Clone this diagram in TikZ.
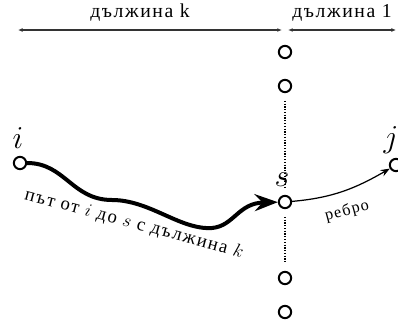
\documentclass[tikz,border=0pt]{standalone}
\usepackage{fontspec}
\setmainfont[LetterSpace=8]{Liberation Serif}
\usepackage{tikz}
\usetikzlibrary{arrows.meta, positioning, calc}

\tikzset{
  vert/.style={circle, draw, line width=1.3pt, fill=white, minimum size=8pt, inner sep=0pt},
  vlabel/.style={font=\huge},
  walk/.style={line width=2.6pt, -{Stealth[length=15pt,width=11pt,inset=5pt]}},
  edge/.style={line width=0.8pt, -{Stealth[length=6pt,width=4.5pt]}},
  span/.style={line width=0.8pt, black!80, {Latex[length=3pt,width=2.5pt]}-{Latex[length=3pt,width=2.5pt]}},
  gap/.style={densely dotted, line width=0.8pt},
  toptext/.style={font=\fontsize{12.8}{14}\selectfont},
  pathtext/.style={font=\fontsize{12.2}{13}\selectfont}
}

\begin{document}
\begin{tikzpicture}[x=0.65pt, y=-0.65pt]
  \useasboundingbox (0,0) rectangle (398,329);

  % lengths on top
  \coordinate (L) at (18,30);
  \coordinate (M) at (285,30);
  \coordinate (R) at (396,30);
  \draw[span, shorten >=2pt] (L) -- (M);
  \draw[span, shorten <=2pt] (M) -- (R);
  \node[toptext] (lenk) at (140,13) {дължина k};
  \node[toptext] (len1) at (342,13) {дължина 1};

  % vertices
  \node[vert] (i) at (20,163) {};
  \node[vert] (j) at (396,165) {};
  \node[vert] (v1) at (285,52) {};
  \node[vert] (v2) at (285,86) {};
  \node[vert] (s) at (285,202) {};
  \node[vert] (v4) at (285,278) {};
  \node[vert] (v5) at (285,312) {};
  \node[vlabel] (li) at (18,138) {$i$};
  \node[vlabel] (ls) at (282,180) {$s$};
  \node[vlabel] (lj) at (391,140) {$j$};

  % dotted column
  \draw[gap, shorten <=5pt, shorten >=5pt] (v2) -- (s);
  \draw[gap, shorten <=5pt, shorten >=5pt] (s) -- (v4);

  % the walk and the last edge
  \draw[walk] (i) .. controls (65,163) and (72,200) .. (112,200)
    .. controls (150,200) and (180,230) .. (212,228)
    .. controls (234,226) and (238,203) .. (s);
  \draw[edge] (s) to[out=5, in=210] (j);

  \node[rotate=-15, pathtext] (wlab) at (134,224) {път от $i$ до $s$ с дължина $k$};
  \node[rotate=15, font=\fontsize{10.5}{12}\selectfont] (elab) at (347,211) {ребро};
\end{tikzpicture}
\end{document}
